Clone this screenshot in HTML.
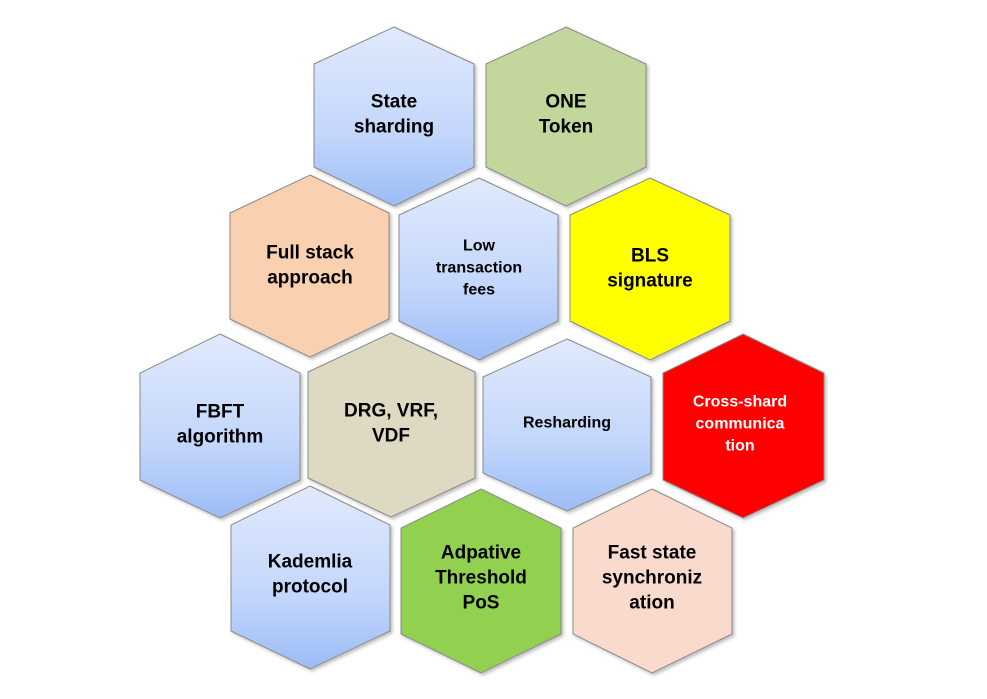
<!DOCTYPE html>
<html><head><meta charset="utf-8"><style>
html,body{margin:0;padding:0;background:#fff;}
svg{display:block}
text{font-family:"Liberation Sans Narrow","Liberation Sans",sans-serif;font-weight:bold;text-anchor:middle;dominant-baseline:central}
</style></head><body>
<svg width="987" height="699" viewBox="0 0 987 699" xmlns="http://www.w3.org/2000/svg">
<defs>
<linearGradient id="bl" x1="0" y1="0" x2="0" y2="1"><stop offset="0" stop-color="#e0eafc"/><stop offset="0.6" stop-color="#c3d6fb"/><stop offset="1" stop-color="#9bbcf6"/></linearGradient>
<filter id="sh" x="-10%" y="-10%" width="130%" height="130%"><feDropShadow dx="2" dy="2" stdDeviation="1.5" flood-color="#000" flood-opacity="0.25"/></filter>
</defs>
<g stroke="#8a8a8a" stroke-width="1" filter="url(#sh)">
<polygon points="394,27 474,64 474,167 394,206 314,167 314,64" fill="url(#bl)"/>
<polygon points="566,27 646,64 646,167 566,206 486,167 486,64" fill="#c3d69b"/>
<polygon points="310,175 389,213 389,319 310,357 230,319 230,213" fill="#f9d0b0"/>
<polygon points="479,178 558,215 558,321 479,360 399,321 399,215" fill="url(#bl)"/>
<polygon points="650,178 730,215 730,321 650,360 570,321 570,215" fill="#ffff00"/>
<polygon points="220,334 300,373 300,480 220,518 140,480 140,373" fill="url(#bl)"/>
<polygon points="391,333 475,372 475,478 391,517 308,478 308,372" fill="#ddd9c3"/>
<polygon points="567,339 651,377 651,473 567,511 483,473 483,377" fill="url(#bl)"/>
<polygon points="743,334 824,373 824,480 743,518 663,480 663,373" fill="#ff0000"/>
<polygon points="310,486 390,525 390,631 310,669 231,631 231,525" fill="url(#bl)"/>
<polygon points="481,489 561,528 561,634 481,673 401,634 401,528" fill="#92d050"/>
<polygon points="652,489 732,528 732,634 652,673 573,634 573,528" fill="#f9dacd"/>
</g>
<g fill="#000" font-size="19">
<text x="394" y="102">State</text><text x="394" y="127">sharding</text>
<text x="566" y="102">ONE</text><text x="566" y="127">Token</text>
<text x="310" y="253">Full stack</text><text x="310" y="278">approach</text>
<text x="479" y="246" font-size="16">Low</text><text x="479" y="268" font-size="16">transaction</text><text x="479" y="290" font-size="16">fees</text>
<text x="650" y="256">BLS</text><text x="650" y="281">signature</text>
<text x="220" y="412">FBFT</text><text x="220" y="437">algorithm</text>
<text x="391" y="411">DRG, VRF,</text><text x="391" y="436">VDF</text>
<text x="567" y="423" font-size="16">Resharding</text>
<text x="310" y="562">Kademlia</text><text x="310" y="587">protocol</text>
<text x="481" y="553">Adpative</text><text x="481" y="578">Threshold</text><text x="481" y="603">PoS</text>
<text x="652" y="553">Fast state</text><text x="652" y="578">synchroniz</text><text x="652" y="603">ation</text>
</g>
<g fill="#fff" font-size="16">
<text x="740" y="402">Cross-shard</text><text x="740" y="424">communica</text><text x="740" y="446">tion</text>
</g>
</svg>
</body></html>
